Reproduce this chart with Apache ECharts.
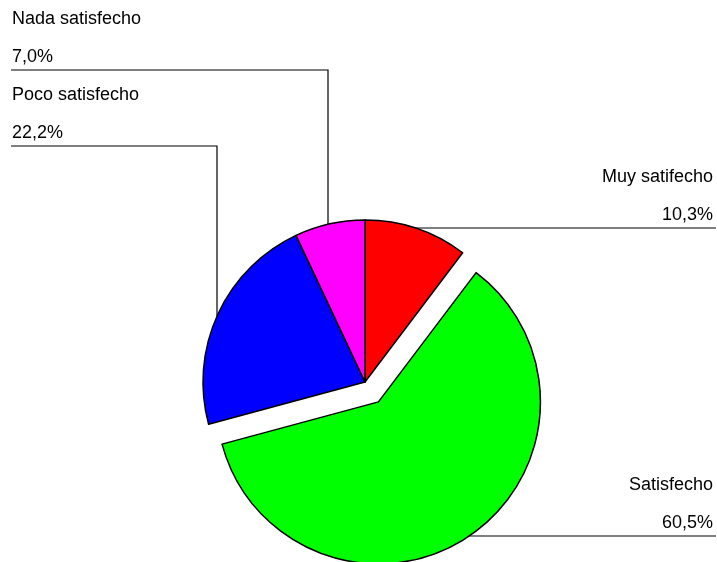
<!DOCTYPE html>
<html><head><meta charset="utf-8">
<script src="https://cdn.jsdelivr.net/npm/echarts@6/dist/echarts.min.js"></script>
<style>html,body{margin:0;padding:0;background:#fff}#c{width:717px;height:562px}</style>
</head><body><div id="c"></div>
<script>
const categories = ['Muy satifecho', 'Satisfecho', 'Poco satisfecho', 'Nada satisfecho'];
const values = [10.3, 60.5, 22.2, 7.0];
const colors = ['#ff0000', '#00ff00', '#0000ff', '#ff00ff'];
const explodedIndex = 1;

const CX = 365, CY = 382, R = 162, OFFSET = 24;
const labelSpec = [
  { side: 'right', lineY: 228 },
  { side: 'right', lineY: 536 },
  { side: 'left', lineY: 146, vx: 217 },
  { side: 'left', lineY: 70, vx: 328 }
];

const total = values.reduce((a, b) => a + b, 0);
const centers = [];
let cum = 0;
values.forEach((v, i) => {
  const mid = 2 * Math.PI * (cum + v / 2) / total;
  cum += v;
  const off = i === explodedIndex ? OFFSET : 0;
  centers.push([CX + off * Math.sin(mid), CY - off * Math.cos(mid)]);
});

function labelLayout(params) {
  const i = params.dataIndex;
  const s = labelSpec[i];
  const c = centers[i];
  const L = s.lineY;
  if (s.side === 'right') {
    const ax = c[0] + Math.sqrt(Math.max(0, R * R - (L - c[1]) * (L - c[1])));
    return {
      x: 713, y: L - 69.5, align: 'right', verticalAlign: 'top',
      labelLinePoints: [[ax, L], [(ax + 716) / 2, L], [716, L]]
    };
  } else {
    const ay = c[1] - Math.sqrt(Math.max(0, R * R - (s.vx - c[0]) * (s.vx - c[0])));
    return {
      x: 12, y: L - 69.5, align: 'left', verticalAlign: 'top',
      labelLinePoints: [[s.vx, ay], [s.vx, L], [11, L]]
    };
  }
}

function makeSeries(exploded) {
  const center = exploded ? centers[explodedIndex] : [CX, CY];
  return {
    type: 'pie',
    center: center,
    radius: R,
    startAngle: 90,
    clockwise: true,
    selectedMode: false,
    avoidLabelOverlap: false,
    emphasis: { disabled: true },
    silent: true,
    label: {
      color: '#000',
      fontSize: 18,
      lineHeight: 38,
      fontFamily: 'Liberation Sans, Arial, sans-serif',
      formatter: p => p.name + '\n' + p.value.toFixed(1).replace('.', ',') + '%'
    },
    labelLine: { lineStyle: { color: '#000', width: 1.2 } },
    labelLayout: labelLayout,
    data: categories.map((n, i) => {
      const visible = exploded ? i === explodedIndex : i !== explodedIndex;
      return {
        name: n,
        value: values[i],
        itemStyle: visible
          ? { color: colors[i], borderColor: '#000', borderWidth: 1.5 }
          : { color: 'rgba(0,0,0,0)', borderWidth: 0 },
        label: { show: visible },
        labelLine: { show: visible }
      };
    })
  };
}

const chart = echarts.init(document.getElementById('c'), null, { renderer: 'canvas' });
chart.setOption({
  animation: false,
  backgroundColor: '#fff',
  series: [makeSeries(false), makeSeries(true)]
});
</script>
</body></html>
